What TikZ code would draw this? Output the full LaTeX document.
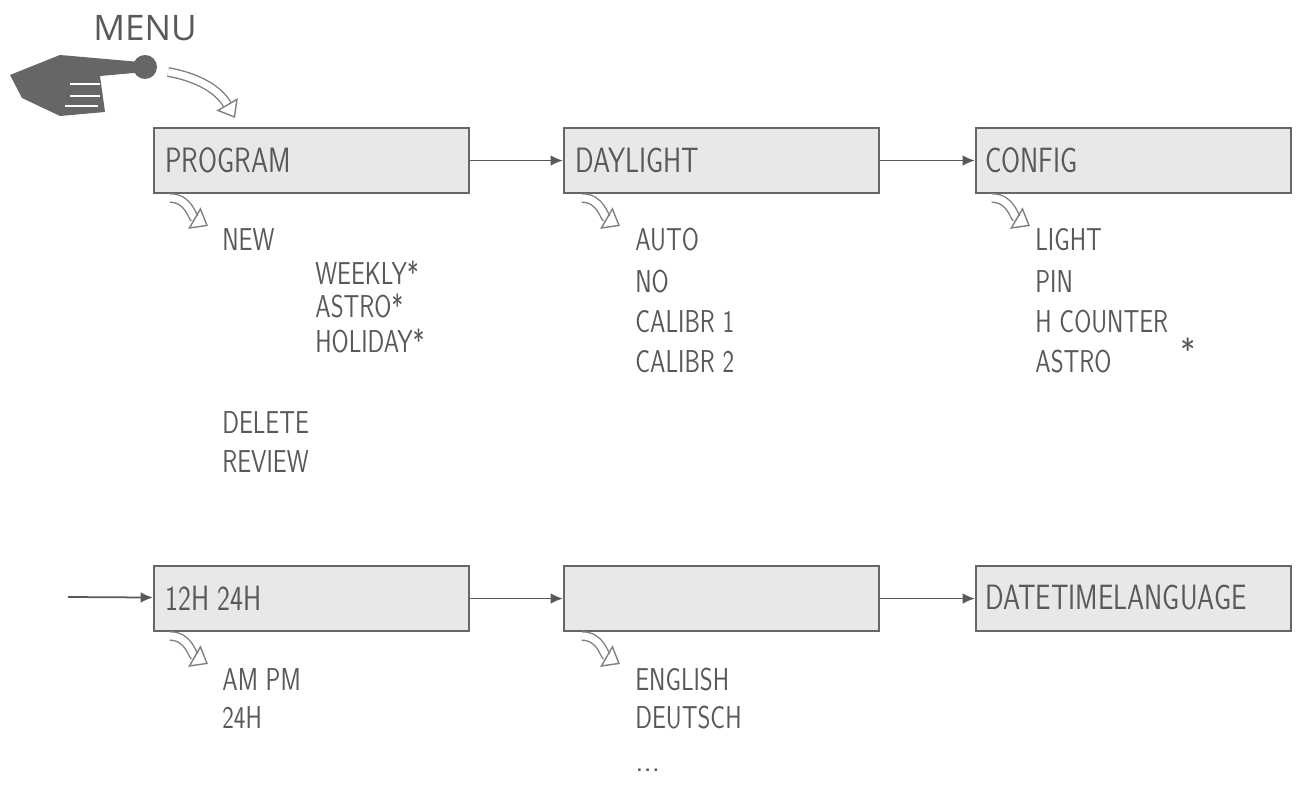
\documentclass[tikz,border=0pt]{standalone}
\usepackage{fontspec}
\setmainfont{Open Sans}
\usetikzlibrary{arrows.meta}
\newcommand{\lcdfont}[1]{\scalebox{0.78}[1]{#1}}
\tikzset{
  lcd/.style={draw=gray!80!black, line width=1.2pt, fill=gray!18, minimum width=315*0.02cm, minimum height=65*0.02cm, anchor=north west},
  lcdtxt/.style={font=\sffamily\fontsize{20}{20}\selectfont, text=gray!70!black, anchor=west, inner sep=0pt},
  item/.style={font=\sffamily\fontsize{18}{18}\selectfont, text=gray!70!black, anchor=west, inner sep=0pt},
  flow/.style={-{Latex[length=7pt,width=6pt]}, gray!70!black, line width=1pt},
  hollow/.style={draw=gray, line width=0.8pt, double=white, double distance=4pt, -{Triangle[open, length=9pt, width=14pt]}},
}
\begin{document}
\begin{tikzpicture}[x=0.02cm,y=-0.02cm]
	\useasboundingbox (0,0) rectangle (1309,790);
	
	\node[font=\fontsize{20}{20}\selectfont, text=gray!70!black] (menu) at (145,28) {MENU};
	% hand
	\fill[gray!80!black] (10,75) -- (60,55) -- (140,62) -- (145,72) -- (100,76) -- (105,112) -- (60,116) -- (22,98) -- cycle;
	\draw[white, line width=1pt] (70,84) -- (100,84) (70,96) -- (100,96) (65,106) -- (98,106);
	\fill[gray!80!black] (145,67) circle (12);
	\draw[hollow] (168,72) to[out=-10,in=120] (235,118);
	
	% row 1
	\node[lcd] (prog) at (153,127) {};
	\node[lcd] (day) at (563,127) {};
	\node[lcd] (conf) at (975,127) {};
	\node[lcdtxt] at (165,160) {\lcdfont{PROGRAM}};
	\node[lcdtxt] at (575,160) {\lcdfont{DAYLIGHT}};
	\node[lcdtxt] at (985,160) {\lcdfont{CONFIG}};
	\draw[flow] (prog) -- (day);
	\draw[flow] (day) -- (conf);
	
	% row 2
	\node[lcd] (hour) at (153,565) {};
	\node[lcd] (lang) at (563,565) {};
	\node[lcd] (date) at (975,565) {};
	\coordinate (in) at (68,597);
	\node[lcdtxt] at (165,598) {\lcdfont{12H 24H}};
	\node[lcdtxt] at (985,598) {\lcdfont{DATETIMELANGUAGE}};
	\draw[flow] (in) -- (hour);
	\draw[flow] (hour) -- (lang);
	\draw[flow] (lang) -- (date);
	
	% sub menus
	\foreach \x/\y in {170/198, 582/198, 992/198, 170/636, 582/636}
		\draw[hollow] (\x,\y) to[out=0,in=150] (\x+38,\y+28);
	
	\node[item] at (222,240) {\lcdfont{NEW}};
	\node[item] at (315,273) {\lcdfont{WEEKLY*}};
	\node[item] at (315,306) {\lcdfont{ASTRO*}};
	\node[item] at (315,341) {\lcdfont{HOLIDAY*}};
	\node[item] at (222,423) {\lcdfont{DELETE}};
	\node[item] at (222,462) {\lcdfont{REVIEW}};
	
	\node[item] at (635,240) {\lcdfont{AUTO}};
	\node[item] at (635,282) {\lcdfont{NO}};
	\node[item] at (635,322) {\lcdfont{CALIBR 1}};
	\node[item] at (635,362) {\lcdfont{CALIBR 2}};
	
	\node[item] at (1035,240) {\lcdfont{LIGHT}};
	\node[item] at (1035,282) {\lcdfont{PIN}};
	\node[item] at (1035,322) {\lcdfont{H COUNTER}};
	\node[item] at (1035,362) {\lcdfont{ASTRO}};
	\node[item] at (1180,350) {*};
	
	\node[item] at (222,680) {\lcdfont{AM PM}};
	\node[item] at (222,718) {\lcdfont{24H}};
	\node[item] at (635,680) {\lcdfont{ENGLISH}};
	\node[item] at (635,718) {\lcdfont{DEUTSCH}};
	\node[item] at (635,770) {...};
\end{tikzpicture}
\end{document}
